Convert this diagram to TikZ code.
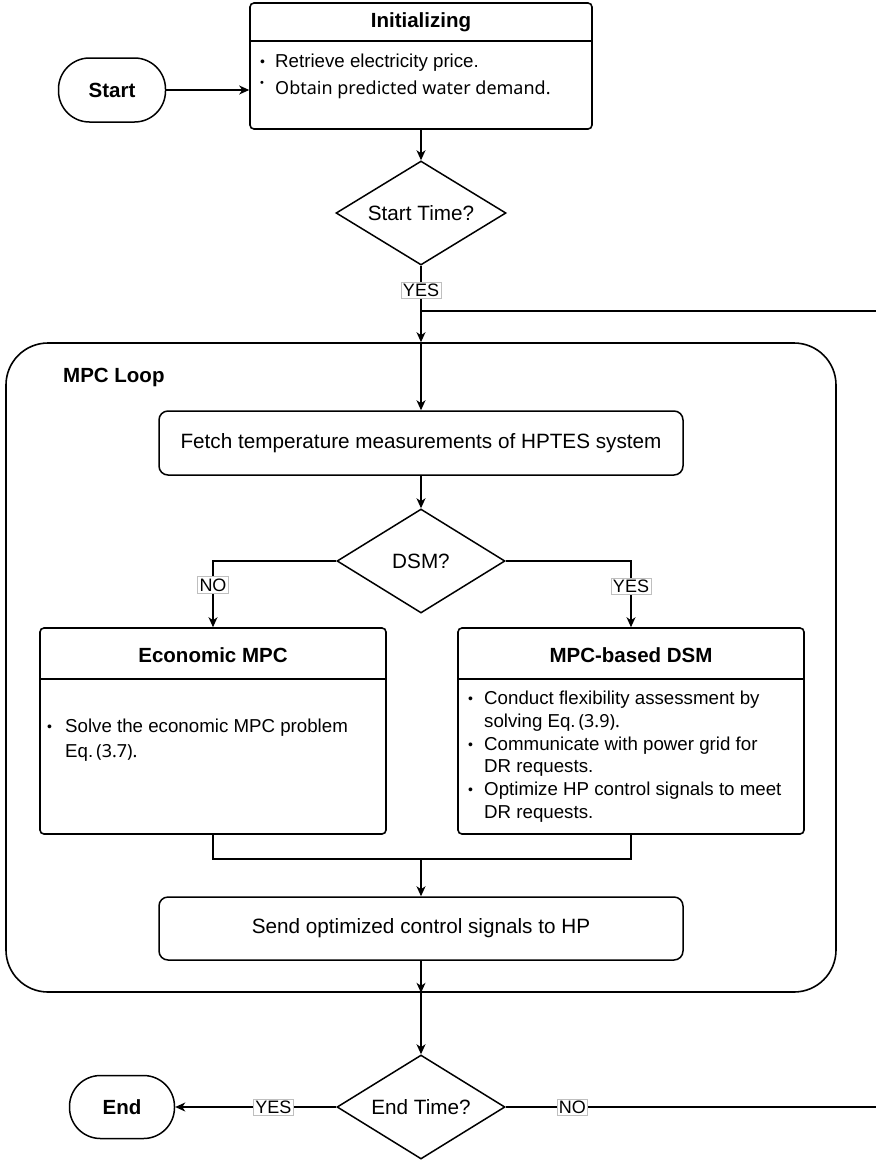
\documentclass[tikz,border=0pt]{standalone}
\usepackage{fontspec}
\setmainfont{Liberation Sans}
\newfontfamily\altfont{Noto Sans}
\usetikzlibrary{shapes.geometric,arrows.meta}

% small list bullet
\newcommand{\dotb}{\raisebox{0.05em}{\fontsize{14}{14}\selectfont\textbullet}}
\newcommand{\dotup}{\raisebox{0.38em}{\fontsize{11}{11}\selectfont\textbullet}}

\begin{document}
\begin{tikzpicture}[x=1pt,y=-1pt,
  frame/.style={draw,line width=1.6pt,rounded corners=4pt,inner sep=0pt},
  proc/.style={draw,line width=1.5pt,rounded corners=9pt,inner sep=0pt,
    minimum width=524pt,minimum height=64pt,font=\fontsize{20.7}{24}\selectfont},
  term/.style={draw,line width=1.5pt,rounded corners=31pt,inner sep=0pt,
    font=\fontsize{20.5}{24}\selectfont\bfseries},
  decide/.style={draw,diamond,line width=1.5pt,inner sep=0pt,aspect=1.6,
    font=\fontsize{20.7}{24}\selectfont},
  title/.style={font=\fontsize{20.5}{24}\selectfont\bfseries,inner sep=0pt},
  body/.style={anchor=west,inner sep=0pt,align=left,
    font=\fontsize{18.7}{22.8}\selectfont},
  divider/.style={line width=1.4pt},
  conn/.style={line width=1.3pt,-{Stealth[length=10pt,width=9pt,inset=3pt]}},
  plain/.style={line width=1.3pt},
  lbl/.style={fill=white,draw=black!25,line width=0.6pt,inner sep=1.8pt,
    font=\fontsize{18}{20}\selectfont}
]
\useasboundingbox (0,0) rectangle (876,1160);

% ---------- initialisation ----------
\node[term,minimum width=107pt,minimum height=64pt] (start) at (112,90) {Start};

\node[frame,minimum width=342pt,minimum height=126pt] (init) at (421,66) {};
\node[title] (initT) at (421,22) {Initializing};
\coordinate (initD) at (0,41);
\draw[divider] (init.west |- initD) -- (init.east |- initD);
\node[body] (initB) at (260,76) {%
  \begin{tabular}{@{}p{15pt}@{}l@{}}
  \dotb & Retrieve electricity price.\\[4.2pt]
  \dotup & {\altfont\fontsize{18}{22}\selectfont Obtain predicted water demand.}
  \end{tabular}};

\node[decide,minimum width=170pt,minimum height=104pt] (d1) at (421,213) {Start Time?};

% ---------- MPC loop container ----------
\node[draw,line width=1.6pt,rounded corners=42pt,minimum width=830pt,
  minimum height=649pt,inner sep=0pt] (loop) at (421,667.5) {};
\node[title,anchor=west] (loopT) at (63,377) {MPC Loop};

\node[proc] (fetch) at (421,443) {Fetch temperature measurements of HPTES system};

\node[decide,minimum width=168pt,minimum height=104pt] (d2) at (421,561) {DSM?};

\node[frame,minimum width=346pt,minimum height=206pt] (econ) at (213,731) {};
\node[title] (econT) at (213,655) {Economic MPC};
\coordinate (boxD) at (0,679);
\draw[divider] (econ.west |- boxD) -- (econ.east |- boxD);
\node[body] (econB) at (47,740.5) {%
  \begin{tabular}{@{}p{18pt}@{}l@{}}
  \dotb & Solve the economic MPC problem\\[2.2pt]
        & Eq.\,{\altfont\fontsize{18}{22}\selectfont (3.7).}
  \end{tabular}};

\node[frame,minimum width=346pt,minimum height=206pt] (dsm) at (631,731) {};
\node[title] (dsmT) at (631,655) {MPC-based DSM};
\draw[divider] (dsm.west |- boxD) -- (dsm.east |- boxD);
\node[body] (dsmB) at (468,757) {%
  \begin{tabular}{@{}p{16pt}@{}l@{}}
  \dotb & Conduct flexibility assessment by\\
        & solving Eq.\,{\altfont\fontsize{18}{22}\selectfont (3.9).}\\
  \dotb & Communicate with power grid for\\
        & DR requests.\\
  \dotb & Optimize HP control signals to meet\\
        & DR requests.
  \end{tabular}};

\node[proc,minimum height=63pt] (send) at (421,928.5) {Send optimized control signals to HP};

% ---------- termination ----------
\node[decide,minimum width=168pt,minimum height=104pt] (d3) at (421,1107) {End Time?};
\node[term,minimum width=105pt,minimum height=63pt] (stop) at (122,1107) {End};

% ---------- connectors ----------
\draw[conn] (start.east) -- (start.east -| init.west);
\draw[conn] (init.south) -- (d1.north);
\draw[conn] (d1.south) -- node[lbl,pos=0.32] (yes1) {YES} (loop.north);
\coordinate (backIn) at (421,311);
\coordinate (backTop) at (876,311);
\draw[plain] (backTop) -- (backIn);
\draw[conn] (loop.north) -- (fetch.north);
\draw[conn] (fetch.south) -- (d2.north);
\draw[conn] (d2.west) -| node[lbl,pos=0.68] (no2) {NO} (econ.north);
\draw[conn] (d2.east) -| node[lbl,pos=0.69] (yes2) {YES} (dsm.north);
\coordinate (merge) at (421,859);
\draw[plain] (econ.south) -- (econ.south |- merge) -- (dsm.south |- merge) -- (dsm.south);
\draw[conn] (merge) -- (send.north);
\draw[conn] (send.south) -- (loop.south);
\draw[conn] (loop.south) -- (d3.north);
\draw[conn] (d3.west) -- node[lbl,pos=0.39] (yes3) {YES} (stop.east);
\coordinate (backBot) at (876,1107);
\draw[plain] (d3.east) -- node[lbl,pos=0.18] (no3) {NO} (backBot);
\end{tikzpicture}
\end{document}
